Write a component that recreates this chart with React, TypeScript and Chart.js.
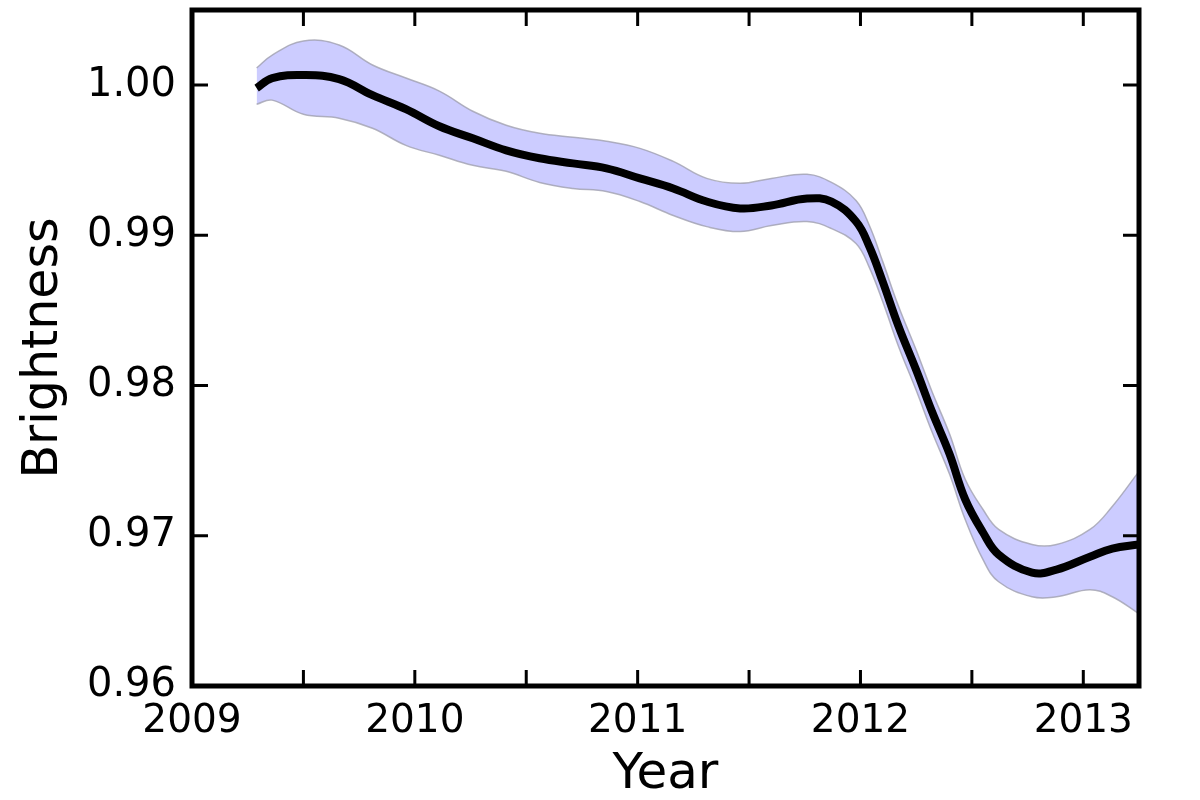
import React, { useEffect, useRef } from 'react';
import { Chart, registerables } from 'chart.js';

Chart.register(...registerables);

// ---- Data ----
const years = [
  2009.29, 2009.36, 2009.5, 2009.66, 2009.81, 2009.96, 2010.11, 2010.26, 2010.41, 2010.56,
  2010.71, 2010.86, 2011.01, 2011.16, 2011.31, 2011.46, 2011.6, 2011.76, 2011.87, 2011.98,
  2012.04, 2012.1, 2012.17, 2012.25, 2012.32, 2012.4, 2012.47, 2012.55, 2012.62, 2012.77,
  2012.88, 2013.03, 2013.13, 2013.25,
];

const meanBrightness = [
  0.9998, 1.00047, 1.00067, 1.0004, 0.99933, 0.9984, 0.99726, 0.99646, 0.99566, 0.99513,
  0.99479, 0.99446, 0.99379, 0.99312, 0.99225, 0.99179, 0.99199, 0.99245, 0.99225, 0.99092,
  0.98925, 0.98691, 0.98397, 0.98103, 0.9783, 0.97543, 0.97242, 0.97022, 0.96875, 0.96755,
  0.96775, 0.96861, 0.96915, 0.96942,
];

const upperBrightness = [
  1.00114, 1.002, 1.00294, 1.00267, 1.00134, 1.00047, 0.9996, 0.99826, 0.99733, 0.99679,
  0.99653, 0.99626, 0.99579, 0.99492, 0.99379, 0.99346, 0.99379, 0.99406, 0.99352, 0.99232,
  0.99065, 0.98825, 0.98531, 0.98237, 0.97964, 0.97677, 0.97376, 0.97175, 0.97042, 0.96942,
  0.96942, 0.97042, 0.97195, 0.97429,
];

const lowerBrightness = [
  0.99873, 0.999, 0.99806, 0.9978, 0.99713, 0.99599, 0.99533, 0.99466, 0.99426, 0.99352,
  0.99312, 0.99292, 0.99225, 0.99132, 0.99058, 0.99025, 0.99065, 0.99092, 0.99045, 0.98945,
  0.98785, 0.98558, 0.98264, 0.97969, 0.97696, 0.97409, 0.97108, 0.96841, 0.96694, 0.96594,
  0.96594, 0.96641, 0.96594, 0.96481,
];

const xRange = [2009, 2013.25];
const yRange = [0.96, 1.005];
const xStep = 0.5;
const yStep = 0.01;
const xAxisTitle = 'Year';
const yAxisTitle = 'Brightness';

const FONT = '"DejaVu Sans", "Liberation Sans", sans-serif';

const toPoints = (vals: number[]) => years.map((x, i) => ({ x, y: vals[i] }));

const isMultiple = (v: number, step: number) => {
  const r = v / step;
  return Math.abs(r - Math.round(r)) < 1e-6;
};

const framePlugin = {
  id: 'frameTicks',
  afterDraw(chart: any) {
    const { ctx, chartArea, scales } = chart;
    const { left, right, top, bottom } = chartArea;
    const L = 16;
    ctx.save();
    ctx.strokeStyle = '#000';
    ctx.lineWidth = 3;
    ctx.beginPath();
    scales.x.ticks.forEach((t: any) => {
      const px = scales.x.getPixelForValue(t.value);
      if (px <= left + 3 || px >= right - 3) return;
      ctx.moveTo(px, bottom);
      ctx.lineTo(px, bottom - L);
      ctx.moveTo(px, top);
      ctx.lineTo(px, top + L);
    });
    scales.y.ticks.forEach((t: any) => {
      const py = scales.y.getPixelForValue(t.value);
      if (py <= top + 3 || py >= bottom - 3) return;
      ctx.moveTo(left, py);
      ctx.lineTo(left + L, py);
      ctx.moveTo(right, py);
      ctx.lineTo(right - L, py);
    });
    ctx.stroke();
    ctx.lineWidth = 5;
    ctx.strokeRect(left, top, right - left, bottom - top);
    ctx.restore();
  },
};

export default function App() {
  const canvasRef = useRef<HTMLCanvasElement | null>(null);

  useEffect(() => {
    if (!canvasRef.current) return;
    const chart = new Chart(canvasRef.current, {
      type: 'line',
      data: {
        datasets: [
          {
            label: 'Brightness',
            data: toPoints(meanBrightness),
            borderColor: '#000000',
            borderWidth: 8,
            pointRadius: 0,
            fill: false,
            tension: 0.4,
          },
          {
            label: 'lower',
            data: toPoints(lowerBrightness),
            borderColor: 'rgba(160,160,175,0.8)',
            borderWidth: 1.5,
            pointRadius: 0,
            fill: false,
            tension: 0.4,
          },
          {
            label: 'upper',
            data: toPoints(upperBrightness),
            borderColor: 'rgba(160,160,175,0.8)',
            backgroundColor: 'rgb(204,204,255)',
            borderWidth: 1.5,
            pointRadius: 0,
            fill: '-1',
            tension: 0.4,
          },
        ],
      },
      options: {
        animation: false,
        responsive: false,
        devicePixelRatio: 1,
        layout: { padding: { top: 10, right: 61, left: 0, bottom: 0 } },
        plugins: {
          legend: { display: false },
          tooltip: { enabled: false },
        },
        scales: {
          x: {
            type: 'linear',
            min: xRange[0],
            max: xRange[1],
            afterBuildTicks: (scale: any) => {
              scale.ticks = scale.ticks.filter((t: any) => isMultiple(t.value, xStep));
            },
            afterFit: (scale: any) => {
              scale.height = 114;
              scale.paddingLeft = 0;
              scale.paddingRight = 0;
            },
            ticks: {
              stepSize: xStep,
              includeBounds: false,
              autoSkip: false,
              maxRotation: 0,
              padding: 12,
              color: '#000',
              font: { family: FONT, size: 39 },
              callback: (v: any) => (isMultiple(Number(v), 1) ? String(Math.round(Number(v))) : ''),
            },
            grid: { display: false, drawTicks: false },
            border: { display: false },
            title: {
              display: true,
              text: xAxisTitle,
              color: '#000',
              font: { family: FONT, size: 50, lineHeight: 1 },
              padding: { top: 0, bottom: 0 },
            },
          },
          y: {
            type: 'linear',
            min: yRange[0],
            max: yRange[1],
            afterBuildTicks: (scale: any) => {
              scale.ticks = scale.ticks.filter((t: any) => isMultiple(t.value, yStep));
            },
            afterFit: (scale: any) => {
              scale.width = 192;
              scale.paddingTop = 0;
              scale.paddingBottom = 0;
            },
            ticks: {
              stepSize: yStep,
              includeBounds: false,
              autoSkip: false,
              padding: 16,
              color: '#000',
              font: { family: FONT, size: 40 },
              callback: (v: any) => Number(v).toFixed(2),
            },
            grid: { display: false, drawTicks: false },
            border: { display: false },
            title: {
              display: true,
              text: yAxisTitle,
              color: '#000',
              font: { family: FONT, size: 49, lineHeight: 1 },
              padding: { top: 20, bottom: 0 },
            },
          },
        },
      },
      plugins: [framePlugin],
    } as any);
    return () => chart.destroy();
  }, []);

  return (
    <div style={{ position: 'absolute', left: 0, top: 0, width: 1200, height: 800, background: '#fff' }}>
      <canvas ref={canvasRef} width={1200} height={800} style={{ display: 'block' }} />
    </div>
  );
}
